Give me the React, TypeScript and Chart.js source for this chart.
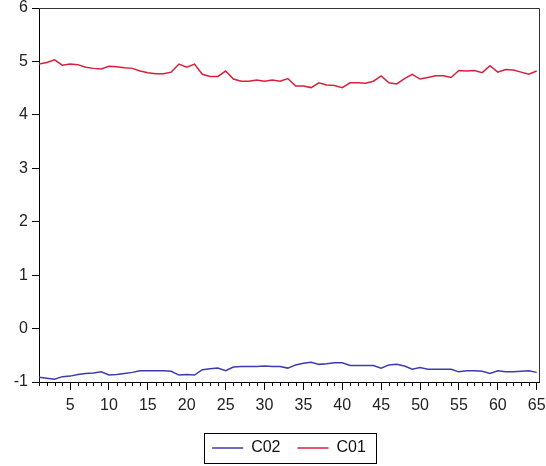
import React, { useEffect, useRef } from "react";
import { Chart, registerables } from "chart.js";

Chart.register(...registerables);

// x categories (observation index)
const periods: number[] = [
  1, 2, 3, 4, 5, 6, 7, 8, 9, 10, 11, 12, 13, 14, 15, 16, 17, 18, 19, 20, 21, 22,
  23, 24, 25, 26, 27, 28, 29, 30, 31, 32, 33, 34, 35, 36, 37, 38, 39, 40, 41, 42,
  43, 44, 45, 46, 47, 48, 49, 50, 51, 52, 53, 54, 55, 56, 57, 58, 59, 60, 61, 62,
  63, 64, 65,
];

const c02: number[] = [
  -0.91, -0.93, -0.95, -0.9, -0.89, -0.86, -0.84, -0.83, -0.81, -0.87, -0.86,
  -0.84, -0.82, -0.79, -0.79, -0.79, -0.79, -0.8, -0.87, -0.86, -0.87, -0.77,
  -0.75, -0.74, -0.79, -0.72, -0.71, -0.71, -0.71, -0.7, -0.71, -0.71, -0.74,
  -0.68, -0.65, -0.63, -0.67, -0.66, -0.64, -0.64, -0.69, -0.69, -0.69, -0.69,
  -0.74, -0.68, -0.67, -0.7, -0.76, -0.73, -0.76, -0.76, -0.76, -0.76, -0.81,
  -0.79, -0.79, -0.8, -0.84, -0.79, -0.81, -0.81, -0.8, -0.79, -0.82,
];

const c01: number[] = [
  4.95, 4.98, 5.03, 4.93, 4.95, 4.94, 4.89, 4.87, 4.86, 4.91, 4.9, 4.88, 4.87,
  4.82, 4.79, 4.77, 4.77, 4.8, 4.95, 4.89, 4.95, 4.76, 4.72, 4.72, 4.82, 4.67,
  4.63, 4.63, 4.65, 4.63, 4.65, 4.63, 4.68, 4.54, 4.54, 4.51, 4.6, 4.56, 4.55,
  4.51, 4.6, 4.6, 4.59, 4.63, 4.73, 4.6, 4.58, 4.68, 4.76, 4.67, 4.7, 4.73,
  4.73, 4.7, 4.83, 4.82, 4.83, 4.79, 4.92, 4.8, 4.85, 4.84, 4.8, 4.76, 4.82,
];

const seriesNames: string[] = ["C02", "C01"];
const yTickMin = -1;
const yTickMax = 6;

const FONT = "'Liberation Sans', Arial, sans-serif";

const framePlugin = {
  id: "frame",
  afterDraw(chart: any) {
    const { ctx, chartArea } = chart;
    const { left, top, right, bottom } = chartArea;
    ctx.save();
    // top & right frame lines
    ctx.strokeStyle = "#333";
    ctx.lineWidth = 1;
    ctx.beginPath();
    ctx.moveTo(left, top + 0.5);
    ctx.lineTo(right + 0.5, top + 0.5);
    ctx.lineTo(right + 0.5, bottom);
    ctx.stroke();
    // minor x ticks
    const xs = chart.scales.x;
    ctx.strokeStyle = "#000";
    ctx.beginPath();
    xs.ticks.forEach((t: any) => {
      if (t.value % 5 !== 0) {
        const px = Math.round(xs.getPixelForValue(t.value)) + 0.5;
        ctx.moveTo(px, bottom);
        ctx.lineTo(px, bottom + 4);
      }
    });
    ctx.stroke();
    // legend frame
    const lg = chart.legend;
    if (lg && lg.legendHitBoxes && lg.legendHitBoxes.length) {
      const hb = lg.legendHitBoxes;
      let minX = Infinity, maxX = -Infinity, minY = Infinity, maxY = -Infinity;
      hb.forEach((b: any) => {
        minX = Math.min(minX, b.left);
        maxX = Math.max(maxX, b.left + b.width);
        minY = Math.min(minY, b.top);
        maxY = Math.max(maxY, b.top + b.height);
      });
      ctx.strokeStyle = "#000";
      ctx.strokeRect(
        Math.round(minX - 8) + 0.5,
        Math.round(minY - 7) + 0.5,
        Math.round(maxX - minX + 18),
        Math.round(maxY - minY + 14)
      );
    }
    ctx.restore();
  },
};

export default function App() {
  const ref = useRef<HTMLCanvasElement | null>(null);

  useEffect(() => {
    document.body.style.margin = "0";
    if (!ref.current) return;
    const chart = new Chart(ref.current, {
      type: "line",
      data: {
        datasets: [
          {
            label: seriesNames[0],
            data: periods.map((p, i) => ({ x: p, y: c02[i] })),
            borderColor: "#3c3caa",
            backgroundColor: "#3c3caa",
            borderWidth: 1.5,
            pointRadius: 0,
            tension: 0,
          },
          {
            label: seriesNames[1],
            data: periods.map((p, i) => ({ x: p, y: c01[i] })),
            borderColor: "#d8203c",
            backgroundColor: "#d8203c",
            borderWidth: 1.5,
            pointRadius: 0,
            tension: 0,
          },
        ],
      },
      options: {
        responsive: false,
        animation: false,
        layout: { padding: { top: 8, right: 7, left: 0, bottom: 0 } },
        plugins: {
          tooltip: { enabled: false },
          legend: {
            position: "bottom",
            fullSize: false,
            labels: {
              usePointStyle: true,
              pointStyle: "line",
              pointStyleWidth: 31,
              padding: 17,
              color: "#111",
              font: { family: FONT, size: 16, lineHeight: 1 },
            },
          },
        },
        scales: {
          x: {
            type: "linear",
            min: 1,
            max: 65.3,
            afterFit(scale: any) {
              scale.height = 41;
              scale.paddingLeft = 0;
              scale.paddingRight = 0;
            },
            border: { display: true, color: "#000", width: 1 },
            grid: {
              display: true,
              drawOnChartArea: false,
              drawTicks: true,
              tickLength: 8,
              tickColor: (ctx: any) =>
                ctx.tick && ctx.tick.value % 5 === 0 ? "#000" : "rgba(0,0,0,0)",
            },
            ticks: {
              stepSize: 1,
              includeBounds: false,
              autoSkip: false,
              maxRotation: 0,
              padding: 6,
              color: "#222",
              font: { family: FONT, size: 16 },
              callback: (v: any) => (Number(v) % 5 === 0 ? String(v) : ""),
            },
          },
          y: {
            min: yTickMin,
            max: yTickMax,
            afterFit(scale: any) {
              scale.width = 39;
              scale.paddingTop = 0;
              scale.paddingBottom = 0;
            },
            border: { display: true, color: "#000", width: 1 },
            grid: {
              display: true,
              drawOnChartArea: false,
              drawTicks: true,
              tickLength: 7,
              tickColor: "#000",
            },
            ticks: {
              stepSize: 1,
              padding: 4,
              color: "#222",
              font: { family: FONT, size: 16 },
            },
          },
        },
      },
      plugins: [framePlugin],
    });
    return () => chart.destroy();
  }, []);

  return (
    <div style={{ width: 546, height: 466, background: "#fff" }}>
      <canvas ref={ref} width={546} height={466} />
    </div>
  );
}
